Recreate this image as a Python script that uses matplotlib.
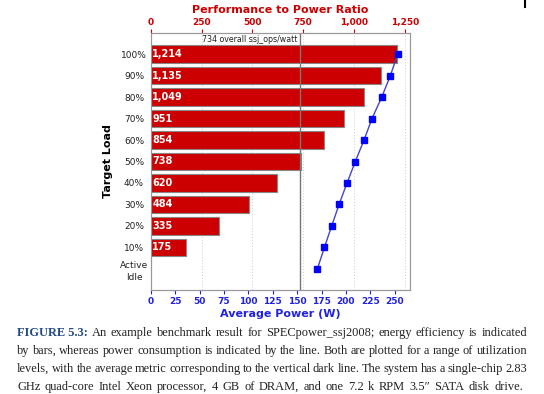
import matplotlib.pyplot as plt
from matplotlib.lines import Line2D

# ---------------------------------------------------------------------------
# Data
# ---------------------------------------------------------------------------
loads = ["Active\nIdle", "10%", "20%", "30%", "40%", "50%",
         "60%", "70%", "80%", "90%", "100%"]
ratio = [None, 175, 335, 484, 620, 738, 854, 951, 1049, 1135, 1214]
power = [170.7, 177.9, 185.4, 192.9, 201.1, 209.6, 218.5, 226.7, 236.7, 245.5, 253.0]
overall = 734
top_ticks = [0, 250, 500, 750, 1000, 1250]
bottom_ticks = [0, 25, 50, 75, 100, 125, 150, 175, 200, 225, 250]

caption_lines = [
    "An example benchmark result for SPECpower_ssj2008; energy efficiency is indicated",
    "by bars, whereas power consumption is indicated by the line. Both are plotted for a range of utilization",
    "levels, with the average metric corresponding to the vertical dark line. The system has a single-chip 2.83",
    "GHz quad-core Intel Xeon processor, 4 GB of DRAM, and one 7.2 k RPM 3.5\u2033 SATA disk drive.",
]

RED = "#cc0000"
BLUE = "#2222dd"

fig = plt.figure(figsize=(5.44, 3.94), dpi=100)
ax = fig.add_axes([150.7 / 544, 1 - 290 / 394, (410 - 150.7) / 544, (290 - 33) / 394])
ax2 = ax.twiny()

# bars (performance to power ratio) -----------------------------------------
ypos = list(range(len(loads)))
for y, r in zip(ypos, ratio):
    if r is None:
        continue
    ax.barh(y, r, height=0.8, color=RED, edgecolor="#888888", linewidth=0.8, zorder=3)
    ax.text(8, y, f"{r:,}", color="white", fontweight="bold", fontsize=7,
            va="center", ha="left", zorder=4)

ax.set_xlim(0, 1276)
ax.set_ylim(-0.98, 10.98)
for t in top_ticks[1:]:
    ax.axvline(t, color="#cccccc", linestyle=(0, (1, 2)), linewidth=0.7, zorder=1)
ax.axvline(overall, color="#777777", linewidth=1.0, zorder=5)
ax.text(overall - 12, 10.66, f"{overall} overall ssj_ops/watt", fontsize=5.7,
        ha="right", va="center", color="#222222", zorder=6)

ax.xaxis.tick_top()
ax.xaxis.set_label_position("top")
ax.set_xticks(top_ticks)
ax.set_xticklabels([f"{t:,}" for t in top_ticks], color=RED, fontsize=6.5, fontweight="bold")
ax.tick_params(axis="x", colors=RED, length=3, pad=1)
ax.set_xlabel("Performance to Power Ratio", color=RED, fontsize=8, fontweight="bold", labelpad=4)

ax.set_yticks(ypos)
ax.set_yticklabels(loads, fontsize=6.5, color="#222222", ha="center", linespacing=1.4)
ax.tick_params(axis="y", length=0, pad=12)
ax.set_ylabel("Target Load", fontsize=8, fontweight="bold", labelpad=5)
for s in ax.spines.values():
    s.set_color("#999999")

# line (average power) ------------------------------------------------------
ax2.plot(power, ypos, color="#4444cc", linewidth=1.0, marker="s", markersize=4.5,
         markerfacecolor="#0000ff", markeredgecolor="#0000ff", zorder=6)
ax2.set_xlim(0, 265.6)
ax2.xaxis.tick_bottom()
ax2.xaxis.set_label_position("bottom")
ax2.set_xticks(bottom_ticks)
ax2.set_xticklabels([str(t) for t in bottom_ticks], color=BLUE, fontsize=6.5, fontweight="bold")
ax2.tick_params(axis="x", colors=BLUE, length=3, pad=2)
ax2.set_xlabel("Average Power (W)", color=BLUE, fontsize=8, fontweight="bold", labelpad=2)
for s in ax2.spines.values():
    s.set_color("#999999")

fig.add_artist(Line2D([525 / 544, 525 / 544], [1, 1 - 7 / 394], color="black", linewidth=1.5))

# caption, justified --------------------------------------------------------
fig.canvas.draw()
renderer = fig.canvas.get_renderer()
x0 = 17
line_right = [527, 527, 527, 523]
line_y = [333, 351, 369, 387]
serif = "Liberation Serif"
cap_size = 8.9


def word_width(word, **kw):
    t = fig.text(0, 0, word, fontsize=cap_size, family=serif, **kw)
    w = t.get_window_extent(renderer).width
    t.remove()
    return w


for i, (line, yy, x1) in enumerate(zip(caption_lines, line_y, line_right)):
    words = []
    if i == 0:
        words.append(("FIGURE 5.3:", dict(fontweight="bold", color="#234a86")))
    words += [(w, dict(color="#222222")) for w in line.split()]
    widths = [word_width(w, **kw) for w, kw in words]
    gap = (x1 - x0 - sum(widths)) / (len(words) - 1)
    x = x0
    for (w, kw), wd in zip(words, widths):
        fig.text(x / 544, 1 - yy / 394, w, fontsize=cap_size, family=serif,
                 va="center", ha="left", **kw)
        x += wd + gap

fig.savefig("out.png", dpi=100)
